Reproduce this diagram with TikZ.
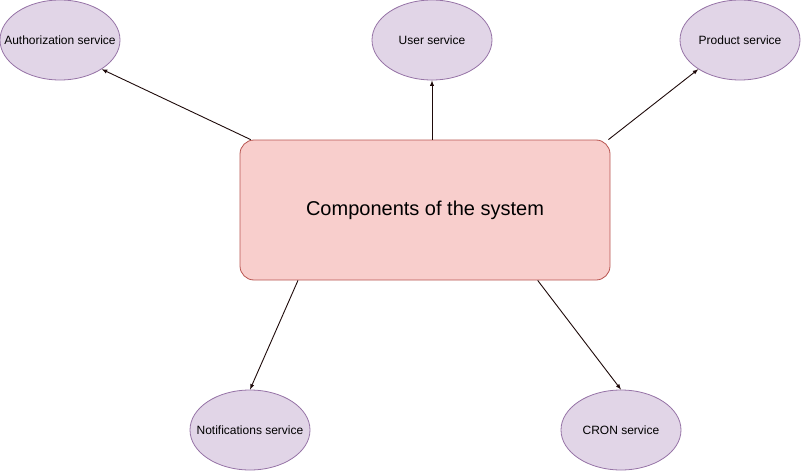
\documentclass[tikz,border=0pt]{standalone}
\usepackage{fontspec}
\setmainfont{Liberation Sans}
\usepackage{tikz}
\definecolor{servfill}{RGB}{225,213,231}
\definecolor{servdraw}{RGB}{150,115,166}
\definecolor{compfill}{RGB}{248,206,204}
\definecolor{compdraw}{RGB}{184,84,80}
\definecolor{arrowcol}{RGB}{30,10,10}
\usetikzlibrary{shapes.geometric,arrows,positioning}
\tikzset{service/.style={ellipse, draw=servdraw, fill=servfill, line width=0.8pt, minimum width=120pt,
 minimum height=80pt, inner xsep=-14pt, inner ysep=0pt, font=\fontsize{12}{14}\selectfont}}
\tikzset{component/.style={rectangle, draw=compdraw, fill=compfill, line width=0.8pt, rounded corners=14pt,
 minimum width=370pt, minimum height=140pt, font=\fontsize{20}{24}\selectfont}}
\tikzset{line/.style={draw=arrowcol, line width=0.9pt, -latex}}

\begin{document}
\begin{tikzpicture}[x=1pt, y=-1pt]
        \useasboundingbox (0,0) rectangle (801,471);
        \node[component] (comp) at (425,210) {Components of the system};
        \node[service] (auth)  at (60,40)  {Authorization service};
        \node[service] (user)  at (432,40) {User service};
        \node[service] (prod)  at (740,40) {Product service};
        \node[service] (notif) at (250,430) {Notifications service};
        \node[service] (cron)  at (621,430) {CRON service};

        \path[line] (comp.158)          -- (auth.-35);
        \path[line] (user |- comp.north) -- (user.south);
        \path[line] (comp.21)           -- (prod.215);
        \path[line] (comp.209)          -- (notif.north);
        \path[line] (comp.-32)          -- (cron.north);

      \end{tikzpicture}
\end{document}
